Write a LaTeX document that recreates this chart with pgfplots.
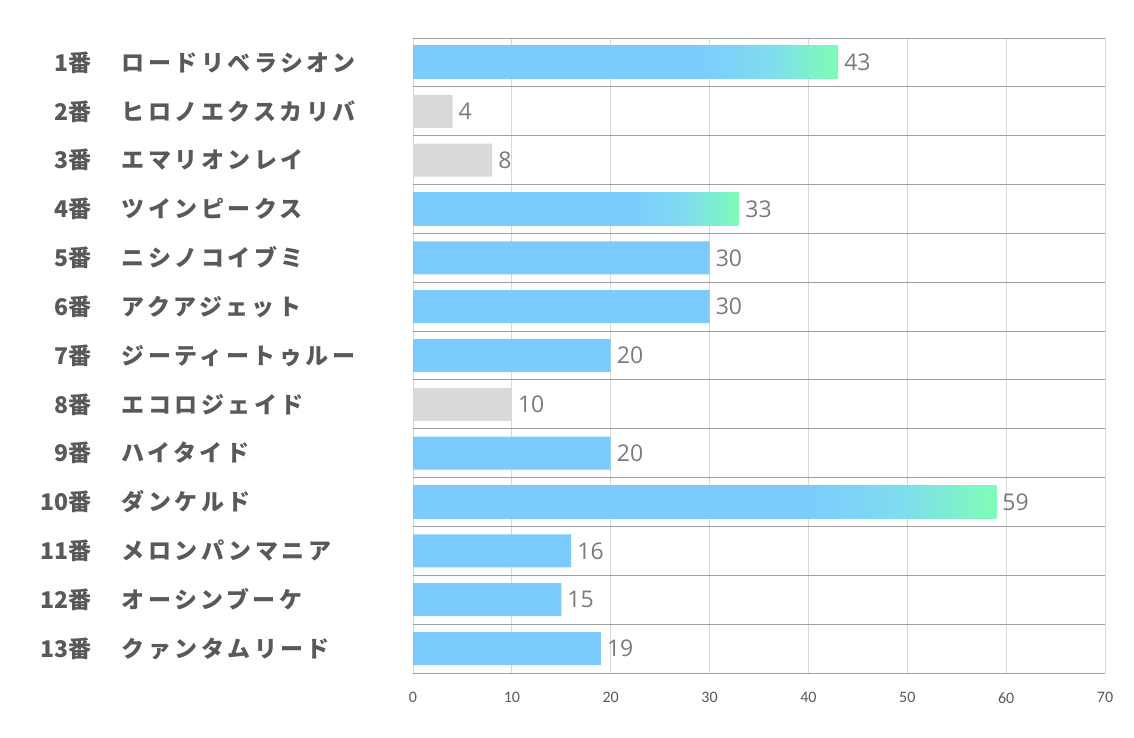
\documentclass[border=0pt]{standalone}
\usepackage{fontspec}
\usepackage{pgfplots}
\pgfplotsset{compat=1.18}
\newfontfamily\jp{Noto Sans CJK JP}
\newfontfamily\jpsp{Noto Sans CJK JP}[LetterSpace=15]
\newfontfamily\numfont{Open Sans}
\newfontfamily\tickfont{Carlito}
\definecolor{barblue}{HTML}{7BCBFE}
\definecolor{bargreen}{HTML}{7EFDB5}
\definecolor{barmid}{HTML}{7EDDEE}
\definecolor{bargray}{HTML}{D9D9D9}
\definecolor{labgray}{HTML}{595959}
\definecolor{valgray}{HTML}{7A7A7A}
\pgfdeclarehorizontalshading{bargrad}{100bp}{color(0bp)=(barblue); color(58bp)=(barblue); color(67bp)=(barmid); color(75bp)=(bargreen); color(100bp)=(bargreen)}
\newcommand\lab[2]{\makebox[52pt][r]{#1番}\hspace{30pt}\makebox[250pt][l]{\jpsp\bfseries #2}}
\begin{document}
\begin{tikzpicture}
\path[use as bounding box] (0,0) rectangle (1134pt,737pt);
\begin{axis}[
  at={(413pt,64pt)}, anchor=south west,
  width=692pt, height=635pt, scale only axis,
  xmin=0, xmax=70, ymin=-0.5, ymax=12.5, y dir=reverse,
  xtick={0,10,...,70},
  ytick={0,...,12},
  minor ytick={-0.5,0.5,...,12.5},
  xmajorgrids, yminorgrids,
  major grid style={draw=bargray, line width=1pt},
  minor grid style={draw=black!38, line width=1pt},
  axis line style={draw=none},
  major tick length=0pt, minor tick length=0pt,
  /pgf/number format/assume math mode=true,
  xticklabel style={font=\tickfont\fontsize{16}{18}\selectfont, text=labgray, yshift=-16pt},
  yticklabel style={font=\jp\bfseries\fontsize{23}{26}\selectfont, text=labgray, inner sep=0pt, xshift=-41pt},
  yticklabels={
    {\lab{1}{ロードリベラシオン}},
    {\lab{2}{ヒロノエクスカリバ}},
    {\lab{3}{エマリオンレイ}},
    {\lab{4}{ツインピークス}},
    {\lab{5}{ニシノコイブミ}},
    {\lab{6}{アクアジェット}},
    {\lab{7}{ジーティートゥルー}},
    {\lab{8}{エコロジェイド}},
    {\lab{9}{ハイタイド}},
    {\lab{10}{ダンケルド}},
    {\lab{11}{メロンパンマニア}},
    {\lab{12}{オーシンブーケ}},
    {\lab{13}{クァンタムリード}}},
  xbar, bar width=33pt, bar shift=0pt,
  nodes near coords, point meta=x,
  nodes near coords style={anchor=west, inner sep=0pt, xshift=6pt, font=\numfont\fontsize{23}{26}\selectfont, text=valgray, /pgf/number format/assume math mode=true},
]
\addplot[draw=none, fill=barblue] coordinates {
  (30,4) (30,5) (20,6) (20,8) (16,10) (15,11) (19,12)};
\addplot[draw=none, fill=bargray] coordinates {
  (4,1) (8,2) (10,7)};
\addplot[draw=none, shading=bargrad] coordinates {(43,0)};
\addplot[draw=none, shading=bargrad] coordinates {(33,3)};
\addplot[draw=none, shading=bargrad] coordinates {(59,9)};
\end{axis}
\end{tikzpicture}
\end{document}
